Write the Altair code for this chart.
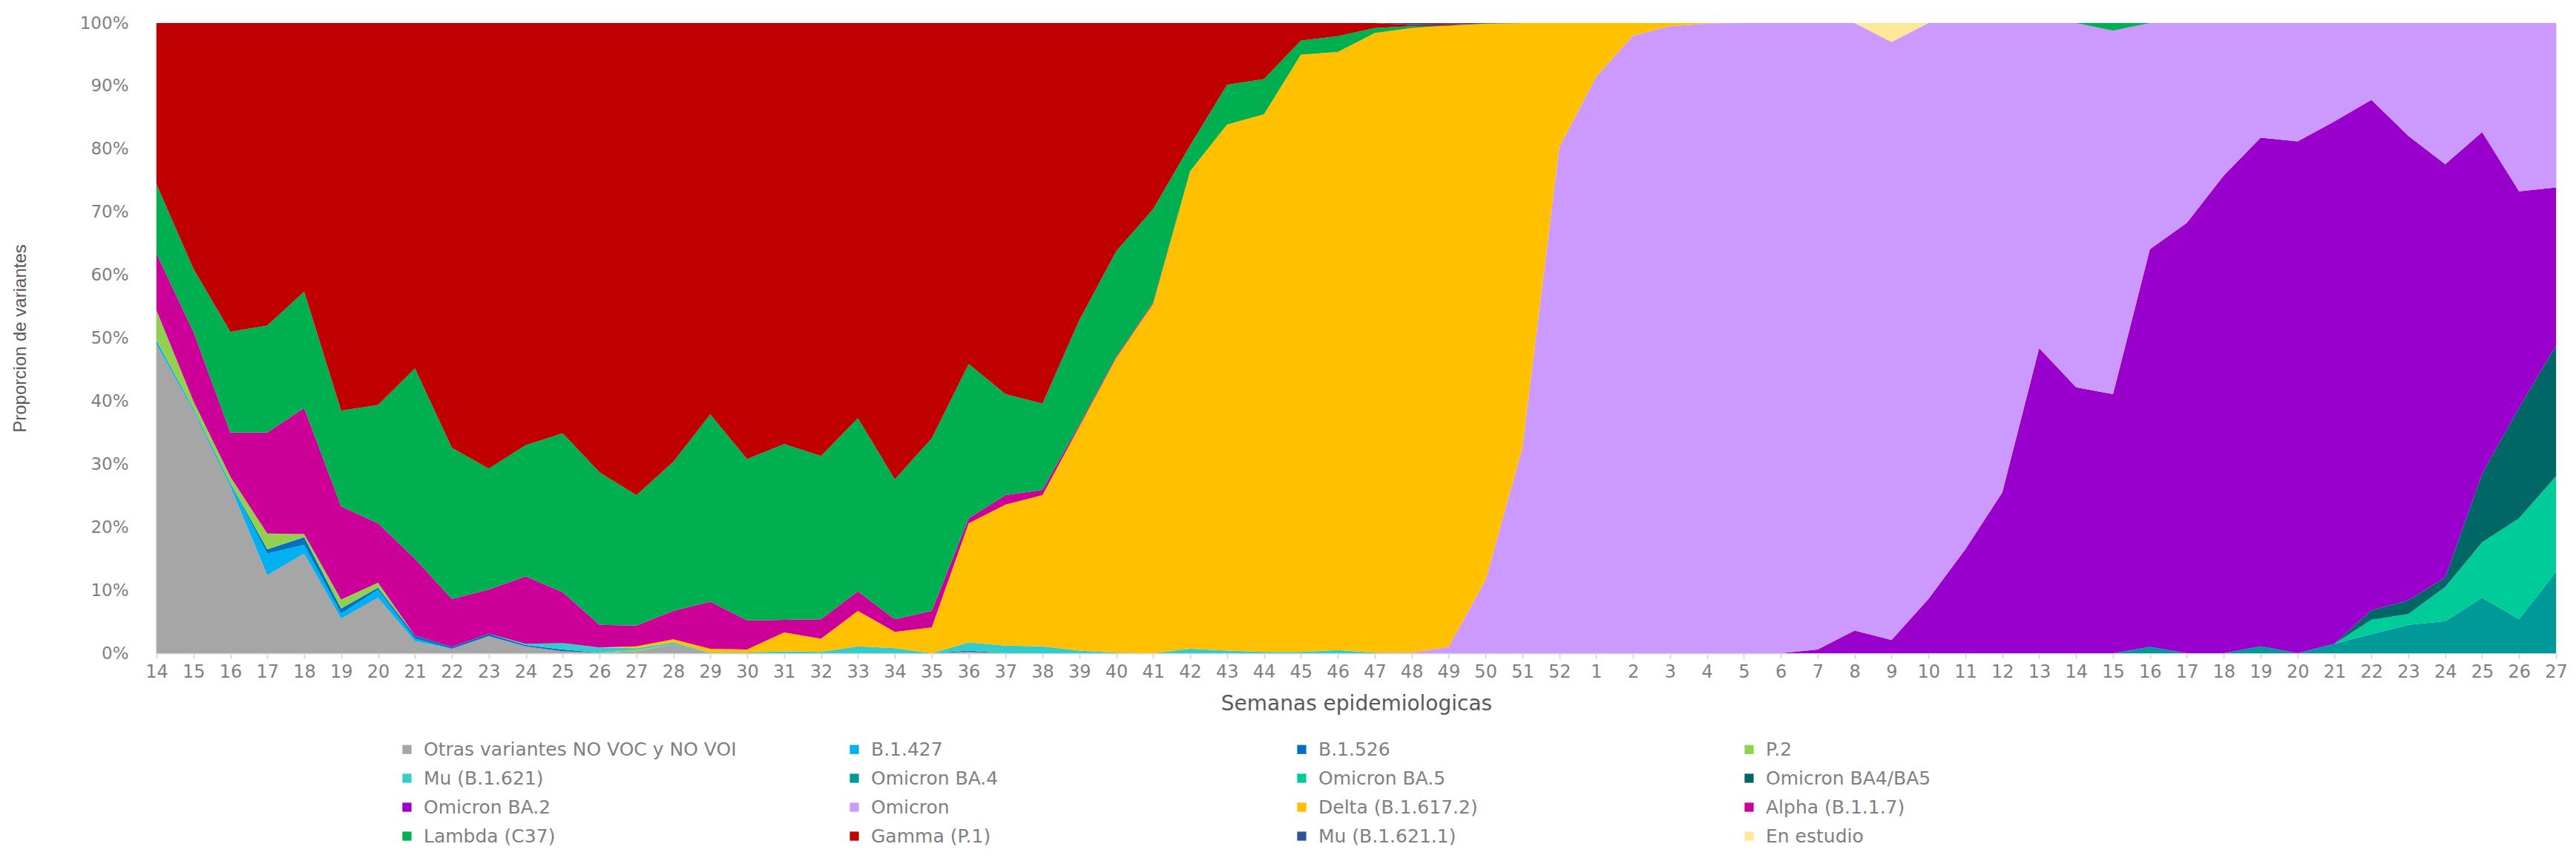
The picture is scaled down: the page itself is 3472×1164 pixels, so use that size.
import json
import altair as alt
import pandas as pd

# ---- tick labels: epidemiological weeks (2021 wk14-52, 2022 wk1-27) ----
week_labels = [str(w) for w in range(14, 53)] + [str(w) for w in range(1, 28)]

series_names = [
    "Otras variantes NO VOC y NO VOI", "B.1.427", "B.1.526", "P.2",
    "Mu (B.1.621)", "Omicron BA.4", "Omicron BA.5", "Omicron BA4/BA5",
    "Omicron BA.2", "Omicron", "Delta (B.1.617.2)", "Alpha (B.1.1.7)",
    "Lambda (C37)", "Gamma (P.1)", "Mu (B.1.621.1)", "En estudio",
]
series_colors = [
    "#A6A6A6", "#00B0F0", "#0070C0", "#92D050",
    "#33CCCC", "#009999", "#00CC99", "#006666",
    "#9900CC", "#CC99FF", "#FFC000", "#CC0099",
    "#00B050", "#C00000", "#2F5597", "#FFE699",
]

# ---- values (% of sequenced samples), one per week ----
otras = [
    49.0, 38.5, 26.5, 12.4, 15.8, 5.5, 8.8, 1.9, 0.7, 2.7,
    1.1, 0.3, 0.1, 0.3, 1.4, 0, 0, 0, 0, 0,
    0, 0, 0.2, 0, 0, 0, 0, 0, 0, 0,
    0, 0, 0, 0, 0, 0, 0, 0, 0, 0,
    0, 0, 0, 0, 0, 0, 0, 0, 0, 0,
    0, 0, 0, 0, 0, 0, 0, 0, 0, 0,
    0, 0, 0, 0, 0, 0]
b1427 = [
    0.6, 0.3, 0.5, 3.4, 1.4, 0.8, 1.3, 0.4, 0, 0,
    0, 0, 0, 0, 0, 0, 0, 0, 0, 0,
    0, 0, 0, 0, 0, 0, 0, 0, 0, 0,
    0, 0, 0, 0, 0, 0, 0, 0, 0, 0,
    0, 0, 0, 0, 0, 0, 0, 0, 0, 0,
    0, 0, 0, 0, 0, 0, 0, 0, 0, 0,
    0, 0, 0, 0, 0, 0]
b1526 = [
    0, 0, 0, 0.7, 1.2, 0.8, 0.3, 0.5, 0.3, 0.4,
    0.2, 0.3, 0, 0, 0, 0, 0, 0, 0, 0,
    0, 0, 0.2, 0, 0, 0, 0, 0, 0, 0,
    0, 0, 0, 0, 0, 0, 0, 0, 0, 0,
    0, 0, 0, 0, 0, 0, 0, 0, 0, 0,
    0, 0, 0, 0, 0, 0, 0, 0, 0, 0,
    0, 0, 0, 0, 0, 0]
p2 = [
    4.8, 1.2, 1.0, 2.5, 0.5, 1.4, 0.8, 0, 0, 0,
    0, 0, 0, 0.2, 0, 0, 0, 0, 0, 0,
    0, 0, 0, 0, 0, 0, 0, 0, 0, 0,
    0, 0, 0, 0, 0, 0, 0, 0, 0, 0,
    0, 0, 0, 0, 0, 0, 0, 0, 0, 0,
    0, 0, 0, 0, 0, 0, 0, 0, 0, 0,
    0, 0, 0, 0, 0, 0]
mu_b1621 = [
    0, 0, 0, 0, 0, 0, 0, 0, 0, 0,
    0.2, 1.0, 0.8, 0.3, 0.3, 0.1, 0.1, 0.3, 0.2, 1.1,
    0.8, 0, 1.3, 1.2, 1.1, 0.4, 0.1, 0, 0.7, 0.4,
    0.2, 0.2, 0.5, 0.1, 0, 0, 0, 0, 0, 0,
    0, 0, 0, 0, 0, 0, 0, 0, 0, 0,
    0, 0, 0, 0, 0, 0, 0, 0, 0, 0,
    0, 0, 0, 0, 0, 0]
omicron_ba4 = [
    0, 0, 0, 0, 0, 0, 0, 0, 0, 0,
    0, 0, 0, 0, 0, 0, 0, 0, 0, 0,
    0, 0, 0, 0, 0, 0, 0, 0, 0, 0,
    0, 0, 0, 0, 0, 0, 0, 0, 0, 0,
    0, 0, 0, 0, 0, 0, 0, 0, 0, 0,
    0, 0, 0, 0, 1.0, 0, 0, 1.1, 0, 1.5,
    3.0, 4.5, 5.1, 8.8, 5.4, 12.9]
omicron_ba5 = [
    0, 0, 0, 0, 0, 0, 0, 0, 0, 0,
    0, 0, 0, 0, 0, 0, 0, 0, 0, 0,
    0, 0, 0, 0, 0, 0, 0, 0, 0, 0,
    0, 0, 0, 0, 0, 0, 0, 0, 0, 0,
    0, 0, 0, 0, 0, 0, 0, 0, 0, 0,
    0, 0, 0, 0, 0, 0, 0, 0, 0, 0,
    2.3, 1.7, 5.4, 8.8, 16.0, 15.2]
omicron_ba4ba5 = [
    0, 0, 0, 0, 0, 0, 0, 0, 0, 0,
    0, 0, 0, 0, 0, 0, 0, 0, 0, 0,
    0, 0, 0, 0, 0, 0, 0, 0, 0, 0,
    0, 0, 0, 0, 0, 0, 0, 0, 0, 0,
    0, 0, 0, 0, 0, 0, 0, 0, 0, 0,
    0, 0, 0, 0, 0, 0, 0, 0, 0, 0,
    1.5, 2.2, 1.5, 10.9, 17.6, 20.7]
omicron_ba2 = [
    0, 0, 0, 0, 0, 0, 0, 0, 0, 0,
    0, 0, 0, 0, 0, 0, 0, 0, 0, 0,
    0, 0, 0, 0, 0, 0, 0, 0, 0, 0,
    0, 0, 0, 0, 0, 0, 0, 0, 0, 0,
    0, 0, 0, 0, 0, 0.6, 3.6, 2.1, 8.6, 16.5,
    25.5, 48.4, 42.2, 41.1, 63.1, 68.3, 75.8, 80.7, 81.2, 82.9,
    81.0, 73.7, 65.6, 54.2, 34.3, 25.1]
omicron = [
    0, 0, 0, 0, 0, 0, 0, 0, 0, 0,
    0, 0, 0, 0, 0, 0, 0, 0, 0, 0,
    0, 0, 0, 0, 0, 0, 0, 0, 0, 0,
    0, 0, 0, 0, 0.1, 1.0, 11.6, 32.6, 80.3, 91.5,
    98.0, 99.5, 99.9, 100, 100, 99.4, 96.4, 94.9, 91.4, 83.5,
    74.5, 51.6, 57.8, 57.7, 35.9, 31.7, 24.2, 18.2, 18.8, 15.6,
    12.2, 17.9, 22.4, 17.3, 26.7, 26.1]
delta = [
    0, 0, 0, 0, 0, 0, 0, 0, 0, 0,
    0, 0, 0, 0.3, 0.5, 0.6, 0.5, 3.0, 2.1, 5.6,
    2.6, 4.1, 18.9, 22.4, 24.0, 35.6, 46.8, 55.5, 75.8, 83.5,
    85.3, 94.8, 94.9, 98.3, 99.1, 98.6, 88.3, 67.4, 19.7, 8.5,
    2.0, 0.5, 0.1, 0, 0, 0, 0, 0, 0, 0,
    0, 0, 0, 0, 0, 0, 0, 0, 0, 0,
    0, 0, 0, 0, 0, 0]
alpha = [
    9.0, 11.0, 7.0, 16.0, 20.0, 14.8, 9.4, 12.2, 7.6, 7.0,
    10.7, 8.1, 3.6, 3.3, 4.5, 7.5, 4.6, 2.0, 3.1, 3.1,
    2.0, 2.6, 0.8, 1.5, 0.8, 0.3, 0.2, 0.2, 0, 0,
    0, 0, 0, 0, 0, 0, 0, 0, 0, 0,
    0, 0, 0, 0, 0, 0, 0, 0, 0, 0,
    0, 0, 0, 0, 0, 0, 0, 0, 0, 0,
    0, 0, 0, 0, 0, 0]
lambda_c37 = [
    11.0, 10.0, 16.0, 17.0, 18.5, 15.2, 18.8, 30.2, 24.0, 19.2,
    20.8, 25.2, 24.2, 20.7, 23.7, 29.7, 25.6, 27.9, 25.9, 27.5,
    22.2, 27.4, 24.5, 16.0, 13.7, 16.6, 16.7, 14.8, 4.1, 6.3,
    5.6, 2.2, 2.5, 0.8, 0.3, 0, 0, 0, 0, 0,
    0, 0, 0, 0, 0, 0, 0, 0, 0, 0,
    0, 0, 0, 1.2, 0, 0, 0, 0, 0, 0,
    0, 0, 0, 0, 0, 0]
gamma = [
    25.6, 39.0, 49.0, 48.0, 42.6, 61.5, 60.6, 54.8, 67.4, 70.7,
    67.0, 65.1, 71.3, 74.9, 69.6, 62.1, 69.2, 66.8, 68.7, 62.7,
    72.4, 65.9, 54.1, 58.9, 60.4, 47.1, 36.2, 29.5, 19.4, 9.8,
    8.9, 2.8, 2.1, 0.8, 0.2, 0.2, 0, 0, 0, 0,
    0, 0, 0, 0, 0, 0, 0, 0, 0, 0,
    0, 0, 0, 0, 0, 0, 0, 0, 0, 0,
    0, 0, 0, 0, 0, 0]
mu_b16211 = [
    0, 0, 0, 0, 0, 0, 0, 0, 0, 0,
    0, 0, 0, 0, 0, 0, 0, 0, 0, 0,
    0, 0, 0, 0, 0, 0, 0, 0, 0, 0,
    0, 0, 0, 0, 0.3, 0.2, 0.1, 0, 0, 0,
    0, 0, 0, 0, 0, 0, 0, 0, 0, 0,
    0, 0, 0, 0, 0, 0, 0, 0, 0, 0,
    0, 0, 0, 0, 0, 0]
en_estudio = [
    0, 0, 0, 0, 0, 0, 0, 0, 0, 0,
    0, 0, 0, 0, 0, 0, 0, 0, 0, 0,
    0, 0, 0, 0, 0, 0, 0, 0, 0, 0,
    0, 0, 0, 0, 0, 0, 0, 0, 0, 0,
    0, 0, 0, 0, 0, 0, 0, 3.0, 0, 0,
    0, 0, 0, 0, 0, 0, 0, 0, 0, 0,
    0, 0, 0, 0, 0, 0]

series_values = [
    otras, b1427, b1526, p2, mu_b1621, omicron_ba4, omicron_ba5,
    omicron_ba4ba5, omicron_ba2, omicron, delta, alpha, lambda_c37,
    gamma, mu_b16211, en_estudio,
]

rows = []
for k, (name, vals) in enumerate(zip(series_names, series_values)):
    assert len(vals) == len(week_labels), name
    for i, v in enumerate(vals):
        rows.append({"idx": i, "series": name, "ord": k, "value": v})
df = pd.DataFrame(rows)

W, H = 3234, 849
FONT = "DejaVu Sans"

chart = alt.Chart(df).mark_area(interpolate="linear").encode(
    x=alt.X(
        "idx:Q",
        scale=alt.Scale(domain=[0, len(week_labels) - 1], nice=False, zero=False),
        axis=alt.Axis(
            values=list(range(len(week_labels))),
            labelExpr=json.dumps(week_labels) + "[datum.value]",
            labelOverlap=False,
            labelFlush=False,
            grid=False,
            tickSize=7,
            tickColor="#D9D9D9",
            tickWidth=2,
            domainColor="#D9D9D9",
            domainWidth=2,
            labelFont=FONT,
            labelFontSize=24,
            labelColor="#7F7F7F",
            labelPadding=6,
            title="Semanas epidemiologicas",
            titleFont=FONT,
            titleFontSize=28,
            titleFontWeight="normal",
            titleColor="#595959",
            titleX=W / 2,
            titleY=68,
            titleBaseline="middle",
            titleAlign="center",
        ),
    ),
    y=alt.Y(
        "value:Q",
        stack="normalize",
        scale=alt.Scale(domain=[0, 1], nice=False),
        axis=alt.Axis(
            values=[0, 0.1, 0.2, 0.3, 0.4, 0.5, 0.6, 0.7, 0.8, 0.9, 1.0],
            format=".0%",
            grid=False,
            ticks=False,
            domainColor="#D9D9D9",
            domainWidth=3,
            labelFont=FONT,
            labelFontSize=23,
            labelColor="#7F7F7F",
            labelPadding=38,
            title="Proporcion de variantes",
            titleFont="Liberation Sans",
            titleFontSize=24,
            titleFontWeight="normal",
            titleColor="#595959",
            titleX=-184,
            titleY=H / 2,
            titleAngle=-90,
            titleBaseline="middle",
            titleAlign="center",
        ),
    ),
    color=alt.Color(
        "series:N",
        sort=series_names,
        scale=alt.Scale(domain=series_names, range=series_colors),
        legend=alt.Legend(
            title=None,
            orient="none",
            legendX=325,
            legendY=966,
            columns=4,
            direction="horizontal",
            gridAlign="all",
            columnPadding=146,
            rowPadding=13,
            symbolType="square",
            symbolSize=150,
            symbolStrokeWidth=0,
            symbolOffset=0,
            labelFont=FONT,
            labelFontSize=25,
            labelColor="#7F7F7F",
            labelLimit=1000,
            labelOffset=10,
        ),
    ),
    order=alt.Order("ord:Q", sort="ascending"),
).properties(
    width=W,
    height=H,
    autosize=alt.AutoSizeParams(type="none"),
    padding={"left": 203, "top": 23, "right": 18, "bottom": 270},
).configure_view(
    stroke=None
).configure(
    background="white"
)

chart.save("out.html", embed_options={"renderer": "svg", "actions": False})
